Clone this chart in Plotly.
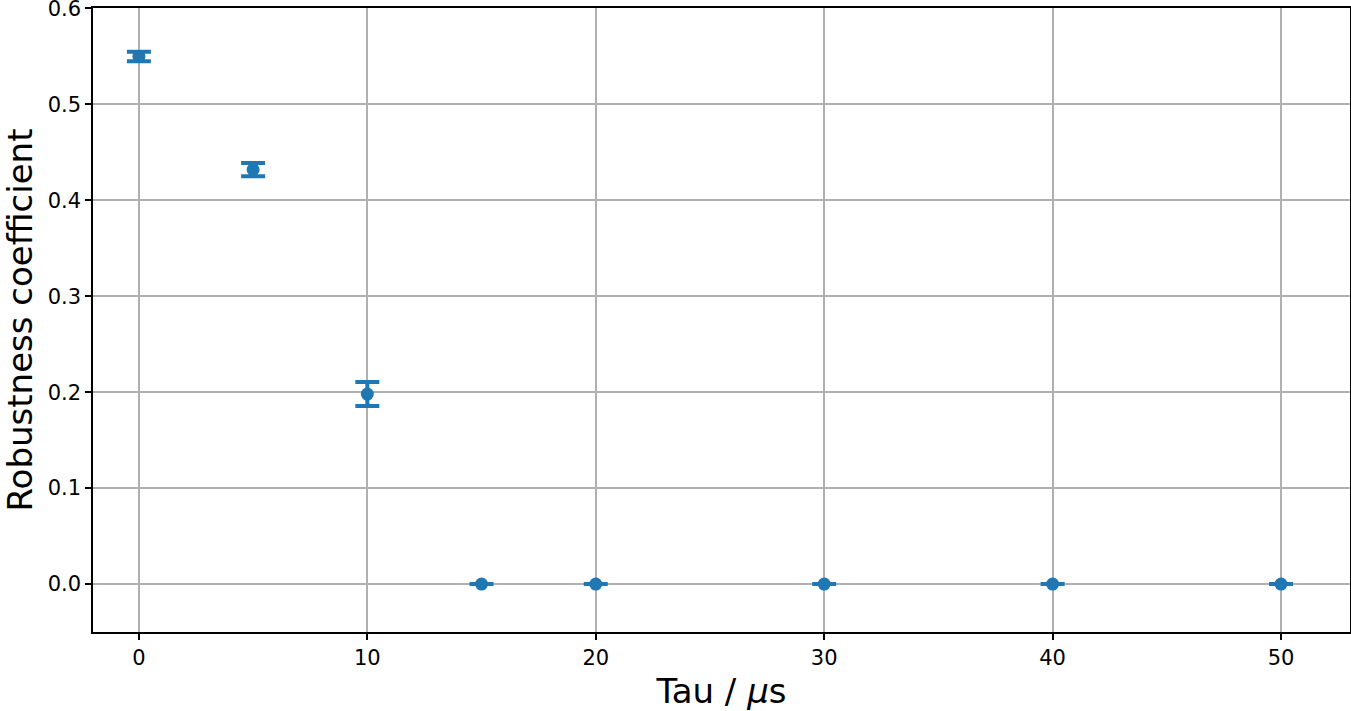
import plotly.graph_objects as go

# Robustness coefficient vs. tau
tau = [0, 5, 10, 15, 20, 30, 40, 50]
robustness = [0.550, 0.432, 0.198, 0.0, 0.0, 0.0, 0.0, 0.0]
robustness_err = [0.005, 0.007, 0.0125, 0.0, 0.0, 0.0, 0.0, 0.0]

x_ticks = [0, 10, 20, 30, 40, 50]
y_ticks = [0.0, 0.1, 0.2, 0.3, 0.4, 0.5, 0.6]

blue = '#1f77b4'

fig = go.Figure(data=go.Scatter(
    x=tau, y=robustness, mode='markers',
    marker=dict(color=blue, size=13),
    error_y=dict(type='data', array=robustness_err, visible=True,
                 color=blue, thickness=4, width=12),
))

axis_style = dict(showline=True, linecolor='black', linewidth=1.5, mirror=True,
                  ticks='outside', ticklen=6, tickwidth=1.5, tickcolor='black',
                  showgrid=True, gridcolor='#b0b0b0', gridwidth=1.5,
                  zeroline=False, ticklabeloverflow='allow', automargin=False,
                  tickfont=dict(size=21, color='black'))

fig.update_layout(
    width=1351, height=711,
    plot_bgcolor='white', paper_bgcolor='white',
    font=dict(family='DejaVu Sans', color='black'),
    margin=dict(l=93, r=1, t=8, b=79),
    showlegend=False,
    xaxis=dict(range=[-2.01, 53.02], tickvals=x_ticks,
               title=dict(text='Tau / <i>μ</i>s', font=dict(size=34), standoff=10),
               **axis_style),
    yaxis=dict(range=[-0.05, 0.6005], tickvals=y_ticks, tickformat='.1f',
               title=dict(text='Robustness coefficient', font=dict(size=34), standoff=8),
               **axis_style),
)

# page body has a default margin; drop it so the figure sits at the top-left corner
fig.write_html('out.html', config={'displayModeBar': False},
               post_script="document.body.style.margin='0';")
